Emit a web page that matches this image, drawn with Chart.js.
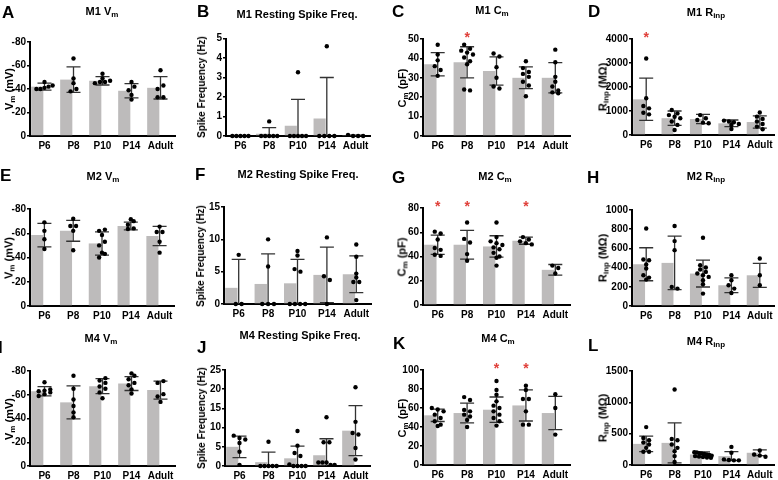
<!DOCTYPE html>
<html>
<head>
<meta charset="utf-8">
<script src="https://cdn.jsdelivr.net/npm/chart.js@4.4.0/dist/chart.umd.min.js"></script>
<style>
  body { margin: 0; background: #fff; width: 778px; height: 480px; position: relative; overflow: hidden;
         font-family: "Liberation Sans", Arial, sans-serif; color: #000; }
  .panel { position: absolute; }
  .letter { position: absolute; font-weight: bold; font-size: 17px; line-height: 1; }
  .title { position: absolute; font-weight: bold; font-size: 11px; white-space: nowrap; line-height: 1;
           transform: translate(-50%, -50%); }
  .ytitle { position: absolute; font-weight: bold; font-size: 11px; white-space: nowrap; line-height: 1;
            transform: translate(-50%, -50%) rotate(-90deg); }
  sub { font-size: 8px; vertical-align: -2px; line-height: 0; }
</style>
</head>
<body>
<script>
const categories = ['P6', 'P8', 'P10', 'P14', 'Adult'];

// M1
const m1VmMean = [-42, -48, -47, -38.5, -41];
const m1VmSd = [3, 10.8, 3.6, 6, 9.5];
const m1VmDots = [[-46, -43, -42, -41, -40, -40], [-66, -49, -45, -40, -38], [-53, -49, -47, -46, -45, -46],
                  [-46, -42, -39, -35, -31], [-56, -43, -40, -33, -33]];

const m1SpikeMean = [0, 0.12, 0.53, 0.9, 0.02];
const m1SpikeSd = [0, 0.31, 1.35, 2.1, 0.03];
const m1SpikeDots = [[0, 0, 0, 0, 0], [0.75, 0, 0, 0, 0, 0], [3.27, 0, 0, 0, 0, 0], [4.6, 0, 0, 0, 0], [0.06, 0, 0, 0]];

const m1CmMean = [37, 38, 33.5, 30, 30];
const m1CmSd = [6, 8, 7.3, 5.6, 7.8];
const m1CmDots = [[47, 42, 39, 36, 34, 31], [47, 45, 44, 43, 42, 40.5, 38.5, 37, 24, 23.5], [42.5, 41, 35.5, 30, 25.5, 24.5],
                  [38.5, 35, 33, 32, 30.5, 28, 26, 20.5], [44.5, 38, 30.5, 28, 25.5, 23.5, 22.5, 22]];
const m1CmStars = [null, 52, null, null, null];

const m1RinpMean = [1486, 700, 667, 486, 540];
const m1RinpSd = [880, 300, 190, 140, 255];
const m1RinpDots = [[3190, 1530, 1210, 1110, 930, 860], [1040, 900, 830, 760, 700, 560, 420, 210], [830, 700, 625, 515, 490],
                    [600, 560, 530, 460, 420, 250], [940, 765, 670, 560, 460, 350, 240]];
const m1RinpStars = [4170, null, null, null, null];

// M2
const m2VmMean = [-58.5, -62, -51.6, -66, -57.7];
const m2VmSd = [9.7, 8.6, 9.6, 3.2, 7.9];
const m2VmDots = [[-69, -62, -55, -47], [-72, -66, -66, -62, -46], [-63, -62, -58.5, -53, -50, -44, -43, -40],
                  [-71.5, -70, -67, -64, -63.5], [-65.5, -61, -61, -53, -44]];

const m2SpikeMean = [2.5, 3.1, 3.2, 4.5, 4.6];
const m2SpikeSd = [4.4, 4.66, 3.7, 4.3, 2.85];
const m2SpikeDots = [[7.6, 0, 0], [10, 5.8, 0, 0, 0], [8.2, 7.5, 5.4, 5, 0, 0, 0, 0], [10.3, 4.3, 3.7, 0],
                     [9.2, 7.3, 4.7, 4.1, 3.4, 3.4, 0.6]];

const m2CmMean = [49.7, 49.7, 48.3, 53, 29];
const m2CmSd = [8, 11.8, 8.8, 2.9, 4.4];
const m2CmDots = [[60.5, 59, 54, 47, 45.5, 41.5, 40.5], [68, 54.5, 51.5, 42, 36.5],
                  [68, 56, 52.5, 51, 49.5, 47.5, 46, 43, 40, 39, 32.5], [56, 54, 52.5, 51, 50], [32.5, 30.5, 26]];
const m2CmStars = [83, 83, null, 83, null];

const m2RinpMean = [435, 449, 338, 216, 320];
const m2RinpSd = [172, 279, 140, 77, 125];
const m2RinpDots = [[808, 485, 477, 432, 390, 320, 296, 275], [833, 676, 582, 199, 181],
                    [711, 425, 401, 380, 355, 338, 320, 303, 268, 226, 129], [320, 268, 216, 181, 136], [495, 320, 216]];

// M4
const m4VmMean = [-63, -53.6, -67.2, -69.4, -63.9];
const m4VmSd = [3.9, 13.9, 6.3, 5.8, 7.5];
const m4VmDots = [[-70.5, -64.5, -63.5, -63, -62, -60.5, -59], [-76, -65, -56, -50.5, -45, -41],
                  [-74, -72, -70, -67, -65, -62, -57], [-78, -76, -73, -70, -68, -64.5, -61], [-71.5, -70, -60.5, -58.5, -54]];

const m4SpikeMean = [5, 1, 2, 2.8, 9.2];
const m4SpikeSd = [2.8, 2.6, 3.2, 4.3, 6.5];
const m4SpikeDots = [[7.9, 7.3, 6.9, 6, 3.7, 0.3], [6.3, 0, 0, 0, 0, 0], [9.1, 5.3, 3.4, 2.6, 0.4, 0, 0, 0, 0],
                     [12.7, 6.2, 6.2, 0.9, 0.9, 0.3, 0.3, 0.9], [20.5, 11.5, 8.6, 8.2, 4.7, 1.7]];

const m4CmMean = [52.3, 54.7, 58.2, 62.7, 54.7];
const m4CmSd = [6.5, 10.4, 13.4, 16.4, 17.5];
const m4CmDots = [[60, 58.5, 56.5, 53, 49.5, 46, 42.5, 41], [71.5, 68.5, 58, 56.5, 53, 51, 47.5, 40],
                  [88.5, 79, 74, 67, 62.5, 60, 56.5, 53, 49.5, 46, 41.5], [83.5, 79, 69.5, 69.5, 56.5, 42.5, 42.5], [74.5, 60, 32]];
const m4CmStars = [null, null, 104, 104, null];

const m4RinpMean = [337, 353, 168, 142, 195];
const m4RinpSd = [125, 320, 40, 70, 45];
const m4RinpDots = [[605, 432, 395, 360, 326, 274, 211, 211], [1205, 416, 395, 326, 274, 221, 142, 47],
                    [205, 200, 190, 184, 175, 168, 160, 150, 142, 135, 126, 120, 116], [289, 195, 89, 80, 74, 74], [232, 168, 150, 131]];

const BAR = '#bdbbbb';
const FONT = '"Liberation Sans", Arial, sans-serif';

const vmT = 'V<sub>m</sub> (mV)', spT = 'Spike Frequency (Hz)', cmT = 'C<sub>m</sub> (pF)', rT = 'R<sub>inp</sub> (M&Omega;)';

const panels = [
  { letter: 'A', lx: 2, ly: 4, title: 'M1 V<sub>m</sub>', tx: 102, ty: 11, yt: vmT, ytx: 9,
    left: 0, rowTop: 0, w: 195, axisX: 30, right: 175, top: 42, bottom: 136, min: -80, max: 0, step: 20, reverse: true,
    mean: m1VmMean, sd: m1VmSd, dots: m1VmDots },
  { letter: 'B', lx: 197, ly: 3, title: 'M1 Resting Spike Freq.', tx: 297, ty: 14, yt: spT, ytx: 202, yts: 10,
    left: 195, rowTop: 0, w: 195, axisX: 226, right: 370, top: 38.5, bottom: 136, min: 0, max: 5, step: 1,
    mean: m1SpikeMean, sd: m1SpikeSd, dots: m1SpikeDots },
  { letter: 'C', lx: 392, ly: 3, title: 'M1 C<sub>m</sub>', tx: 492, ty: 10, yt: cmT, ytx: 402,
    left: 390, rowTop: 0, w: 195, axisX: 423, right: 570, top: 39, bottom: 136, min: 0, max: 50, step: 10,
    mean: m1CmMean, sd: m1CmSd, dots: m1CmDots, stars: m1CmStars },
  { letter: 'D', lx: 588, ly: 3, title: 'M1 R<sub>inp</sub>', tx: 706, ty: 12, yt: rT, ytx: 603,
    left: 585, rowTop: 0, w: 193, axisX: 632, right: 776, top: 39, bottom: 135, min: 0, max: 4000, step: 1000,
    mean: m1RinpMean, sd: m1RinpSd, dots: m1RinpDots, stars: m1RinpStars },

  { letter: 'E', lx: 0, ly: 167, title: 'M2 V<sub>m</sub>', tx: 103, ty: 176, yt: vmT, ytx: 9,
    left: 0, rowTop: 160, w: 195, axisX: 30, right: 174, top: 209, bottom: 306, min: -80, max: 0, step: 20, reverse: true,
    mean: m2VmMean, sd: m2VmSd, dots: m2VmDots },
  { letter: 'F', lx: 195, ly: 166, title: 'M2 Resting Spike Freq.', tx: 298, ty: 174, yt: spT, ytx: 201, yts: 10,
    left: 195, rowTop: 160, w: 195, axisX: 224, right: 371, top: 207, bottom: 304, min: 0, max: 15, step: 5,
    mean: m2SpikeMean, sd: m2SpikeSd, dots: m2SpikeDots },
  { letter: 'G', lx: 392, ly: 169, title: 'M2 C<sub>m</sub>', tx: 495, ty: 176, yt: cmT, ytx: 402,
    left: 390, rowTop: 160, w: 195, axisX: 423, right: 570, top: 208, bottom: 305, min: 0, max: 80, step: 20,
    mean: m2CmMean, sd: m2CmSd, dots: m2CmDots, stars: m2CmStars },
  { letter: 'H', lx: 587, ly: 169, title: 'M2 R<sub>inp</sub>', tx: 706, ty: 176, yt: rT, ytx: 603,
    left: 585, rowTop: 160, w: 193, axisX: 632, right: 776, top: 210, bottom: 306, min: 0, max: 1000, step: 200,
    mean: m2RinpMean, sd: m2RinpSd, dots: m2RinpDots },

  { letter: 'I', lx: -2, ly: 339, title: 'M4 V<sub>m</sub>', tx: 101, ty: 338, yt: vmT, ytx: 9,
    left: 0, rowTop: 320, w: 195, axisX: 30, right: 175, top: 371, bottom: 466, min: -80, max: 0, step: 20, reverse: true,
    mean: m4VmMean, sd: m4VmSd, dots: m4VmDots },
  { letter: 'J', lx: 197, ly: 339, title: 'M4 Resting Spike Freq.', tx: 300, ty: 335, yt: spT, ytx: 202, yts: 10,
    left: 195, rowTop: 320, w: 195, axisX: 225, right: 370, top: 370, bottom: 466, min: 0, max: 25, step: 5,
    mean: m4SpikeMean, sd: m4SpikeSd, dots: m4SpikeDots },
  { letter: 'K', lx: 393, ly: 335, title: 'M4 C<sub>m</sub>', tx: 498, ty: 338, yt: cmT, ytx: 402,
    left: 390, rowTop: 320, w: 195, axisX: 423, right: 570, top: 370, bottom: 465, min: 0, max: 100, step: 20,
    mean: m4CmMean, sd: m4CmSd, dots: m4CmDots, stars: m4CmStars },
  { letter: 'L', lx: 588, ly: 337, title: 'M4 R<sub>inp</sub>', tx: 706, ty: 341, yt: rT, ytx: 603,
    left: 585, rowTop: 320, w: 193, axisX: 632, right: 776, top: 371, bottom: 465, min: 0, max: 1500, step: 500,
    mean: m4RinpMean, sd: m4RinpSd, dots: m4RinpDots }
];

// mean +/- SD whiskers, drawn over the bars and under the dots
const errorBars = {
  id: 'errorBars',
  afterDatasetDraw(chart, args, opts) {
    if (args.index !== 0) return;
    const { ctx, scales: { x, y } } = chart;
    ctx.save();
    ctx.strokeStyle = '#333';
    ctx.lineWidth = 1.3;
    opts.mean.forEach((m, i) => {
      const sd = opts.sd[i];
      if (!sd) return;
      const cx = x.getPixelForValue(i);
      const ends = [m - sd, m + sd];
      const lo = Math.max(Math.min(...ends), y.min), hi = Math.min(Math.max(...ends), y.max);
      ctx.beginPath();
      ctx.moveTo(cx, y.getPixelForValue(lo));
      ctx.lineTo(cx, y.getPixelForValue(hi));
      [lo, hi].forEach(v => {
        if (v === y.min && Math.min(...ends) < y.min) return;
        const py = y.getPixelForValue(v);
        ctx.moveTo(cx - 7, py);
        ctx.lineTo(cx + 7, py);
      });
      ctx.stroke();
    });
    ctx.restore();
  }
};

const starMarks = {
  id: 'starMarks',
  afterDraw(chart, args, opts) {
    if (!opts.stars) return;
    const { ctx, scales: { x, y } } = chart;
    ctx.save();
    ctx.fillStyle = '#e0403a';
    ctx.font = 'bold 14px ' + FONT;
    ctx.textAlign = 'center';
    ctx.textBaseline = 'middle';
    opts.stars.forEach((v, i) => {
      if (v == null) return;
      ctx.fillText('*', x.getPixelForValue(i), y.getPixelForValue(v) + 3);
    });
    ctx.restore();
  }
};

// spread dots of similar value sideways, like a column scatter plot
function jitter(vals, range) {
  const order = vals.map((v, i) => i).sort((a, b) => vals[b] - vals[a]);
  const tol = range * 0.04;
  const out = new Array(vals.length);
  let row = [];
  const flush = () => {
    const k = row.length, step = Math.min(0.2, 0.7 / k);
    row.forEach((idx, j) => { out[idx] = (j - (k - 1) / 2) * step; });
    row = [];
  };
  order.forEach(idx => {
    if (row.length && Math.abs(vals[row[0]] - vals[idx]) > tol) flush();
    row.push(idx);
  });
  flush();
  return out;
}

function html(cls, x, y, text, extra) {
  const d = document.createElement('div');
  d.className = cls;
  d.style.left = x + 'px';
  d.style.top = y + 'px';
  if (extra) Object.assign(d.style, extra);
  d.innerHTML = text;
  document.body.appendChild(d);
}

panels.forEach(p => {
  const box = document.createElement('div');
  box.className = 'panel';
  box.style.left = p.left + 'px';
  box.style.top = p.rowTop + 'px';
  const cv = document.createElement('canvas');
  cv.width = p.w;
  cv.height = 160;
  box.appendChild(cv);
  document.body.appendChild(box);

  const points = p.dots.flatMap((g, i) => {
    const off = jitter(g, p.max - p.min);
    return g.map((v, j) => ({ x: i + off[j], y: v }));
  });
  const tickFont = { family: FONT, size: 10, weight: 'bold' };

  new Chart(cv, {
    type: 'bar',
    data: {
      labels: categories,
      datasets: [
        { type: 'bar', data: p.mean, backgroundColor: BAR, barPercentage: 0.84, categoryPercentage: 1,
          order: 2, xAxisID: 'x', yAxisID: 'y' },
        { type: 'scatter', data: points, backgroundColor: '#000', borderWidth: 0, pointRadius: 2.2,
          order: 1, xAxisID: 'xs', yAxisID: 'y', clip: false }
      ]
    },
    options: {
      responsive: false,
      animation: false,
      devicePixelRatio: 1,
      layout: { padding: { top: p.top - p.rowTop, right: p.left + p.w - p.right, left: 0, bottom: 0 } },
      plugins: {
        legend: { display: false },
        tooltip: { enabled: false },
        errorBars: { mean: p.mean, sd: p.sd },
        starMarks: { stars: p.stars }
      },
      scales: {
        x: {
          type: 'category', offset: true,
          grid: { display: false, drawTicks: false },
          border: { color: '#000', width: 2 },
          ticks: { color: '#000', font: tickFont, padding: 4, maxRotation: 0, autoSkip: false },
          afterFit: s => { s.height = p.rowTop + 160 - p.bottom; }
        },
        xs: { type: 'linear', display: false, offset: false, bounds: 'data', min: -0.5, max: 4.5,
              grid: { offset: false } },
        y: {
          min: p.min, max: p.max, reverse: !!p.reverse,
          ticks: { stepSize: p.step, color: '#000', font: tickFont, padding: 1, callback: v => String(v) },
          grid: { drawOnChartArea: false, color: '#000', lineWidth: 1.5, tickLength: 3 },
          border: { color: '#000', width: 2 },
          afterFit: s => { s.width = p.axisX - p.left; }
        }
      }
    },
    plugins: [errorBars, starMarks]
  });

  html('letter', p.lx, p.ly, p.letter);
  html('title', p.tx, p.ty, p.title);
  html('ytitle', p.ytx, (p.top + p.bottom) / 2, p.yt, p.yts ? { fontSize: p.yts + 'px' } : null);
});
</script>
</body>
</html>
